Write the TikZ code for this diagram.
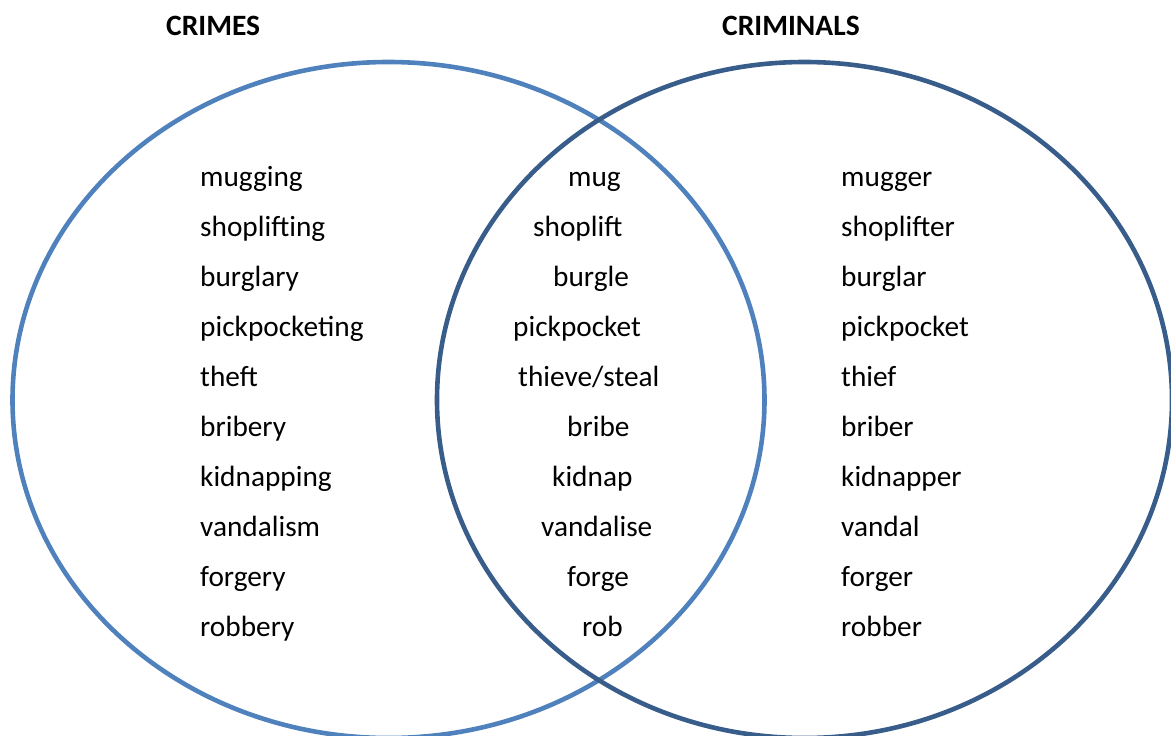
\documentclass[tikz,border=0pt]{standalone}
\usepackage{fontspec}
\setmainfont{Carlito}
\definecolor{lightblue}{HTML}{4F81BD}
\definecolor{darkblue}{HTML}{385D8A}
\begin{document}
\begin{tikzpicture}[x=1pt,y=-1pt,
  word/.style={anchor=base west,inner sep=0pt,font=\fontsize{29.3}{35}\selectfont},
  title/.style={anchor=base west,inner sep=0pt,font=\fontsize{29.5}{35}\selectfont\bfseries},
  ring/.style={line width=4.6pt}]
\useasboundingbox (0,0) rectangle (1171,736);
\draw[ring,lightblue] (388.5,400) ellipse [x radius=376, y radius=338];
\draw[ring,darkblue] (804.5,400) ellipse [x radius=367.5, y radius=338];
\node[title] (t1) at (166,35) {CRIMES};
\node[title] (t2) at (722,35) {CRIMINALS};
% left column
\foreach \w [count=\i from 0] in {mugging,shoplifting,burglary,pickpocketing,theft,bribery,kidnapping,vandalism,forgery,robbery}
  \node[word] (l\i) at (200,186+50.1*\i) {\w};
% right column
\foreach \w [count=\i from 0] in {mugger,shoplifter,burglar,pickpocket,thief,briber,kidnapper,vandal,forger,robber}
  \node[word] (r\i) at (841,186+50.1*\i) {\w};
% middle column
\foreach \w/\x [count=\i from 0] in {mug/568,shoplift/533,burgle/553,pickpocket/513,thieve\slash steal/518,bribe/567,kidnap/552,vandalise/541,forge/567,rob/582}
  \node[word] (m\i) at (\x,186+50.1*\i) {\w};
\end{tikzpicture}
\end{document}
